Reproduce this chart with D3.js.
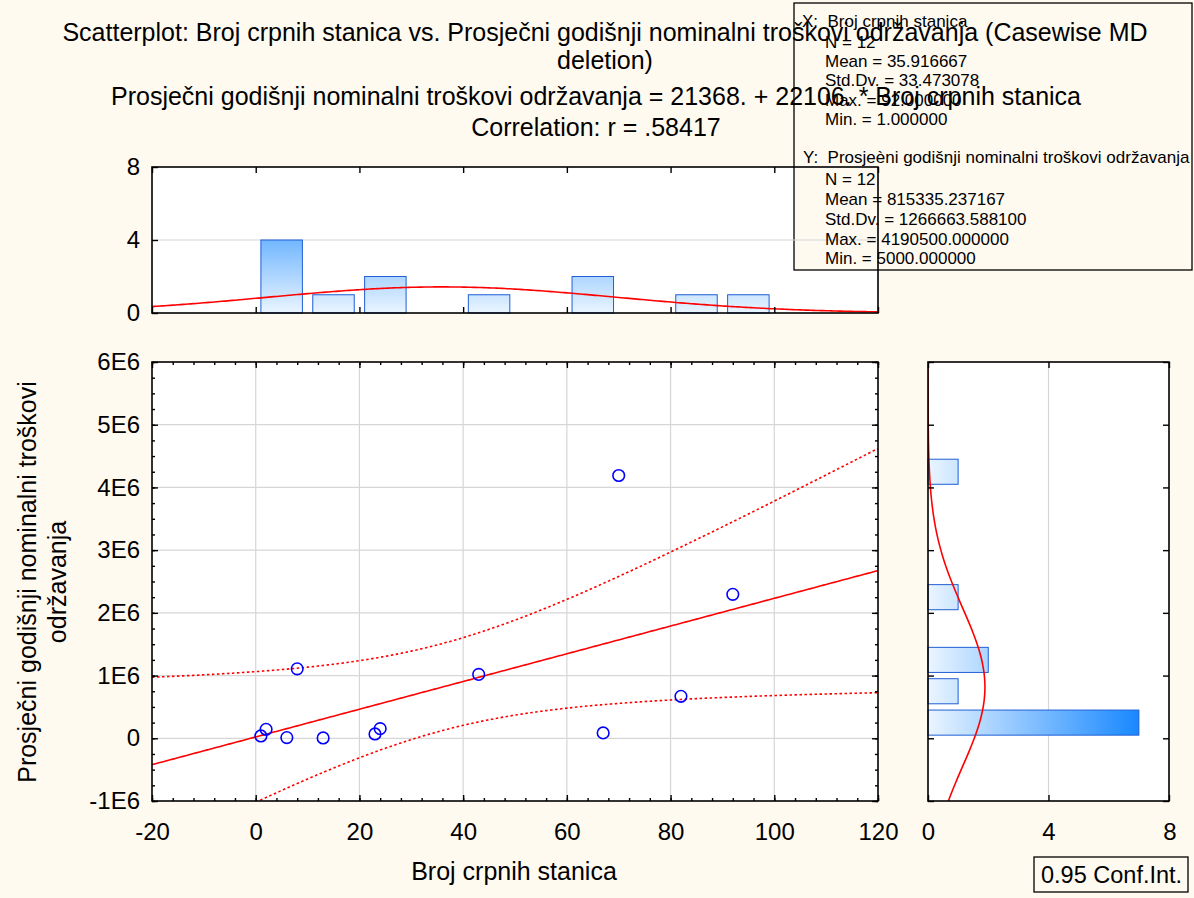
<!DOCTYPE html>
<html lang="hr">
<head>
    <meta charset="UTF-8">
    <title>Scatterplot</title>
    <script src="https://d3js.org/d3.v7.min.js"></script>
    <style>
        body {
            margin: 0;
            background: #fffaf0;
            font-family: "Liberation Sans", Arial, sans-serif;
        }
        svg text { fill: #000; }
        .grid { stroke: #d6d6d6; stroke-width: 1.2; }
        .frame { fill: none; stroke: #000; stroke-width: 1.6; }
        .axis .domain { display: none; }
        .axis line { stroke: #000; stroke-width: 1.4; }
        .axis text { font-size: 24px; font-family: "Liberation Sans", Arial, sans-serif; }
        .stats text { font-size: 17px; white-space: pre; }
    </style>
</head>
<body>
<svg id="chart" width="1194" height="898"></svg>
<script>
    // scatter data
    const stations = [1, 2, 6, 8, 13, 23, 24, 43, 67, 70, 82, 92];
    const costs = [37000, 143000, 11000, 1107000, 5000, 69000, 153500, 1019000, 85000, 4190500, 669000, 2295000];

    // histogram of X (bin start, width 10) and of Y (bin start, width 500000)
    const xBinStart = [0, 10, 20, 40, 60, 80, 90];
    const xBinCount = [4, 1, 2, 1, 2, 1, 1];
    const yBinStart = [0, 500000, 1000000, 2000000, 4000000];
    const yBinCount = [7, 1, 2, 1, 1];
    const xBinWidth = 10, yBinWidth = 500000;

    // statistics printed on the chart
    const N = 12;
    const xMean = 35.916667, xSd = 33.473078;
    const yMean = 815335.237167, ySd = 1266663.588100;
    const intercept = 21368, slope = 22106, r = 0.58417;
    const tCrit = 2.228; // t(0.975, df = 10)

    const titleLines = [
        "Scatterplot: Broj crpnih stanica vs. Prosječni godišnji nominalni troškovi održavanja (Casewise MD",
        "deletion)",
        "Prosječni godišnji nominalni troškovi održavanja = 21368. + 22106. * Broj crpnih stanica",
        "Correlation: r = .58417"
    ];
    const statsX = ["X:  Broj crpnih stanica", "N = 12", "Mean = 35.916667", "Std.Dv. = 33.473078",
        "Max. = 92.000000", "Min. = 1.000000"];
    const statsY = ["Y:  Prosjeèni godišnji nominalni troškovi održavanja", "N = 12", "Mean = 815335.237167",
        "Std.Dv. = 1266663.588100", "Max. = 4190500.000000", "Min. = 5000.000000"];

    const xTicks = d3.range(-20, 121, 20);
    const xMinor = d3.range(-20, 121, 4);
    const yTicks = d3.range(-1e6, 6e6 + 1, 1e6);
    const yMinor = d3.range(-1e6, 6e6 + 1, 250000);
    const countTicks = [0, 4, 8];

    const svg = d3.select("#chart");

    // scales
    const x = d3.scaleLinear().domain([-20, 120]).range([152, 878]);
    const y = d3.scaleLinear().domain([-1e6, 6e6]).range([801, 362]);
    const hy = d3.scaleLinear().domain([0, 8]).range([313, 167]);   // top histogram counts
    const hx = d3.scaleLinear().domain([0, 8]).range([928, 1169]);  // right histogram counts

    const yFmt = d => d === 0 ? "0" : (d / 1e6) + "E6";
    const numFmt = d => String(d);

    const defs = svg.append("defs");
    function clip(id, x0, y0, x1, y1) {
        defs.append("clipPath").attr("id", id).append("rect")
            .attr("x", x0).attr("y", y0).attr("width", x1 - x0).attr("height", y1 - y0);
    }
    clip("clipMain", x(-20), y(6e6), x(120), y(-1e6));
    clip("clipTop", x(-20), hy(8), x(120), hy(0));
    clip("clipRight", hx(0), y(6e6), hx(8), y(-1e6));

    // bar gradients, in count space
    const gTop = defs.append("linearGradient").attr("id", "gradTop")
        .attr("gradientUnits", "userSpaceOnUse")
        .attr("x1", 0).attr("x2", 0).attr("y1", hy(0)).attr("y2", hy(7));
    const gRight = defs.append("linearGradient").attr("id", "gradRight")
        .attr("gradientUnits", "userSpaceOnUse")
        .attr("y1", 0).attr("y2", 0).attr("x1", hx(0)).attr("x2", hx(7));
    [gTop, gRight].forEach(g => {
        g.append("stop").attr("offset", "0%").attr("stop-color", "#eaf5ff");
        g.append("stop").attr("offset", "100%").attr("stop-color", "#1888ff");
    });

    // ---------- plot backgrounds ----------
    svg.append("rect").attr("x", x(-20)).attr("y", hy(8)).attr("width", x(120) - x(-20))
        .attr("height", hy(0) - hy(8)).attr("fill", "#fff");
    svg.append("rect").attr("x", x(-20)).attr("y", y(6e6)).attr("width", x(120) - x(-20))
        .attr("height", y(-1e6) - y(6e6)).attr("fill", "#fff");
    svg.append("rect").attr("x", hx(0)).attr("y", y(6e6)).attr("width", hx(8) - hx(0))
        .attr("height", y(-1e6) - y(6e6)).attr("fill", "#fff");

    // stats box background (sits over the top histogram)
    svg.append("rect").attr("x", 794).attr("y", 3).attr("width", 398).attr("height", 267)
        .attr("fill", "#fffaf0").attr("stroke", "#000").attr("stroke-width", 1.3);

    // ---------- title ----------
    const titleY = [41, 69, 105, 136];
    const titleX = [605, 605, 596, 596];
    svg.append("g").selectAll("text").data(titleLines).join("text")
        .attr("x", (d, i) => titleX[i]).attr("y", (d, i) => titleY[i])
        .attr("text-anchor", "middle").style("font-size", "25px")
        .text(d => d);

    // ---------- top histogram ----------
    const topHist = svg.append("g");
    topHist.append("line").attr("class", "grid")
        .attr("x1", x(-20)).attr("x2", x(120)).attr("y1", hy(4)).attr("y2", hy(4));
    topHist.selectAll("rect.bar").data(xBinStart).join("rect").attr("class", "bar")
        .attr("x", d => x(d + xBinWidth * 0.1))
        .attr("width", d => x(d + xBinWidth * 0.9) - x(d + xBinWidth * 0.1))
        .attr("y", (d, i) => hy(xBinCount[i]))
        .attr("height", (d, i) => hy(0) - hy(xBinCount[i]))
        .attr("fill", "url(#gradTop)").attr("stroke", "#1f5ed6").attr("stroke-width", 1);
    const topCurve = d3.range(-20, 120.01, 0.5).map(v => [v,
        N * xBinWidth * Math.exp(-0.5 * ((v - xMean) / xSd) ** 2) / (xSd * Math.sqrt(2 * Math.PI))]);
    topHist.append("path").attr("clip-path", "url(#clipTop)")
        .attr("d", d3.line().x(d => x(d[0])).y(d => hy(d[1]))(topCurve))
        .attr("fill", "none").attr("stroke", "#ff0000").attr("stroke-width", 1.6);
    topHist.append("g").attr("class", "axis").attr("transform", `translate(0,${hy(0)})`)
        .call(d3.axisBottom(x).tickValues(xTicks).tickSize(-6).tickFormat(""));
    topHist.append("g").attr("class", "axis").attr("transform", `translate(0,${hy(8)})`)
        .call(d3.axisTop(x).tickValues(xTicks).tickSize(-6).tickFormat(""));
    topHist.append("g").attr("class", "axis").attr("transform", `translate(${x(-20)},0)`)
        .call(d3.axisLeft(hy).tickValues(countTicks).tickSize(-6).tickPadding(12).tickFormat(numFmt));
    topHist.append("rect").attr("class", "frame").attr("x", x(-20)).attr("y", hy(8))
        .attr("width", x(120) - x(-20)).attr("height", hy(0) - hy(8));

    // ---------- main scatter ----------
    const mainG = svg.append("g");
    mainG.selectAll("line.gx").data(xTicks.slice(1, -1)).join("line").attr("class", "grid")
        .attr("x1", d => x(d)).attr("x2", d => x(d)).attr("y1", y(6e6)).attr("y2", y(-1e6));
    mainG.selectAll("line.gy").data(yTicks.slice(1, -1)).join("line").attr("class", "grid")
        .attr("y1", d => y(d)).attr("y2", d => y(d)).attr("x1", x(-20)).attr("x2", x(120));

    const sxx = (N - 1) * xSd * xSd;
    const sRes = Math.sqrt((N - 1) * ySd * ySd * (1 - r * r) / (N - 2));
    const fitPts = d3.range(-20, 120.01, 0.5).map(v => {
        const yh = intercept + slope * v;
        const half = tCrit * sRes * Math.sqrt(1 / N + (v - xMean) ** 2 / sxx);
        return { v, yh, lo: yh - half, hi: yh + half };
    });
    const plotArea = mainG.append("g").attr("clip-path", "url(#clipMain)");
    plotArea.append("path")
        .attr("d", d3.line().x(d => x(d.v)).y(d => y(d.yh))(fitPts))
        .attr("fill", "none").attr("stroke", "#ff0000").attr("stroke-width", 1.6);
    ["lo", "hi"].forEach(k => {
        plotArea.append("path")
            .attr("d", d3.line().x(d => x(d.v)).y(d => y(d[k]))(fitPts))
            .attr("fill", "none").attr("stroke", "#ff0000").attr("stroke-width", 1.6)
            .attr("stroke-dasharray", "2.5,2.5");
    });
    plotArea.selectAll("circle").data(stations).join("circle")
        .attr("cx", d => x(d)).attr("cy", (d, i) => y(costs[i])).attr("r", 5.8)
        .attr("fill", "none").attr("stroke", "#0000ff").attr("stroke-width", 1.6);

    mainG.append("g").attr("class", "axis").attr("transform", `translate(0,${y(-1e6)})`)
        .call(d3.axisBottom(x).tickValues(xTicks).tickSize(-6).tickPadding(22).tickFormat(numFmt));
    mainG.append("g").attr("class", "axis").attr("transform", `translate(0,${y(-1e6)})`)
        .call(d3.axisBottom(x).tickValues(xMinor).tickSize(-3).tickFormat(""));
    mainG.append("g").attr("class", "axis").attr("transform", `translate(0,${y(6e6)})`)
        .call(d3.axisTop(x).tickValues(xTicks).tickSize(-6).tickFormat(""));
    mainG.append("g").attr("class", "axis").attr("transform", `translate(0,${y(6e6)})`)
        .call(d3.axisTop(x).tickValues(xMinor).tickSize(-3).tickFormat(""));
    mainG.append("g").attr("class", "axis").attr("transform", `translate(${x(-20)},0)`)
        .call(d3.axisLeft(y).tickValues(yTicks).tickSize(-6).tickPadding(12).tickFormat(yFmt));
    mainG.append("g").attr("class", "axis").attr("transform", `translate(${x(-20)},0)`)
        .call(d3.axisLeft(y).tickValues(yMinor).tickSize(-3).tickFormat(""));
    mainG.append("g").attr("class", "axis").attr("transform", `translate(${x(120)},0)`)
        .call(d3.axisRight(y).tickValues(yTicks).tickSize(-6).tickFormat(""));
    mainG.append("g").attr("class", "axis").attr("transform", `translate(${x(120)},0)`)
        .call(d3.axisRight(y).tickValues(yMinor).tickSize(-3).tickFormat(""));
    mainG.append("rect").attr("class", "frame").attr("x", x(-20)).attr("y", y(6e6))
        .attr("width", x(120) - x(-20)).attr("height", y(-1e6) - y(6e6));

    // ---------- right histogram ----------
    const rightHist = svg.append("g");
    rightHist.append("line").attr("class", "grid")
        .attr("x1", hx(4)).attr("x2", hx(4)).attr("y1", y(6e6)).attr("y2", y(-1e6));
    rightHist.selectAll("rect.bar").data(yBinStart).join("rect").attr("class", "bar")
        .attr("x", hx(0))
        .attr("width", (d, i) => hx(yBinCount[i]) - hx(0))
        .attr("y", d => y(d + yBinWidth * 0.9))
        .attr("height", d => y(d + yBinWidth * 0.1) - y(d + yBinWidth * 0.9))
        .attr("fill", "url(#gradRight)").attr("stroke", "#1f5ed6").attr("stroke-width", 1);
    const rightCurve = d3.range(-1e6, 6e6 + 1, 20000).map(v => [v,
        N * yBinWidth * Math.exp(-0.5 * ((v - yMean) / ySd) ** 2) / (ySd * Math.sqrt(2 * Math.PI))]);
    rightHist.append("path").attr("clip-path", "url(#clipRight)")
        .attr("d", d3.line().x(d => hx(d[1])).y(d => y(d[0]))(rightCurve))
        .attr("fill", "none").attr("stroke", "#ff0000").attr("stroke-width", 1.6);
    rightHist.append("g").attr("class", "axis").attr("transform", `translate(0,${y(-1e6)})`)
        .call(d3.axisBottom(hx).tickValues(countTicks).tickSize(-6).tickPadding(22).tickFormat(numFmt))
        .selectAll("text").attr("text-anchor", (d, i) => i === 2 ? "end" : "middle")
        .attr("dx", (d, i) => i === 2 ? 7 : 0);
    rightHist.append("g").attr("class", "axis").attr("transform", `translate(0,${y(6e6)})`)
        .call(d3.axisTop(hx).tickValues(countTicks).tickSize(-6).tickFormat(""));
    rightHist.append("g").attr("class", "axis").attr("transform", `translate(${hx(0)},0)`)
        .call(d3.axisLeft(y).tickValues(yTicks).tickSize(-6).tickFormat(""));
    rightHist.append("g").attr("class", "axis").attr("transform", `translate(${hx(8)},0)`)
        .call(d3.axisRight(y).tickValues(yTicks).tickSize(-6).tickFormat(""));
    rightHist.append("rect").attr("class", "frame").attr("x", hx(0)).attr("y", y(6e6))
        .attr("width", hx(8) - hx(0)).attr("height", y(-1e6) - y(6e6));

    // ---------- axis titles ----------
    svg.append("text").attr("x", 514).attr("y", 880).attr("text-anchor", "middle")
        .style("font-size", "25px").text("Broj crpnih stanica");
    const yTitle = svg.append("text").attr("transform", "translate(0,582) rotate(-90)")
        .attr("text-anchor", "middle").style("font-size", "25px");
    yTitle.append("tspan").attr("x", 0).attr("y", 36).text("Prosječni godišnji nominalni troškovi");
    yTitle.append("tspan").attr("x", 0).attr("y", 66).text("održavanja");

    // ---------- stats text ----------
    const statY = [21, 42, 61, 80, 100, 119];
    const statY2 = [157, 179, 199, 219, 239, 258];
    const stats = svg.append("g").attr("class", "stats");
    stats.append("g").selectAll("text").data(statsX).join("text")
        .attr("x", (d, i) => i === 0 ? 802 : 825).attr("y", (d, i) => statY[i] + 6)
        .text(d => d);
    stats.append("g").selectAll("text").data(statsY).join("text")
        .attr("x", (d, i) => i === 0 ? 803 : 825).attr("y", (d, i) => statY2[i] + 6)
        .text(d => d);

    // ---------- confidence legend ----------
    svg.append("rect").attr("x", 1034).attr("y", 857).attr("width", 154).attr("height", 35)
        .attr("fill", "#fffaf0").attr("stroke", "#000").attr("stroke-width", 1.3);
    svg.append("text").attr("x", 1041).attr("y", 883).style("font-size", "23.5px").text("0.95 Conf.Int.");
</script>
</body>
</html>
